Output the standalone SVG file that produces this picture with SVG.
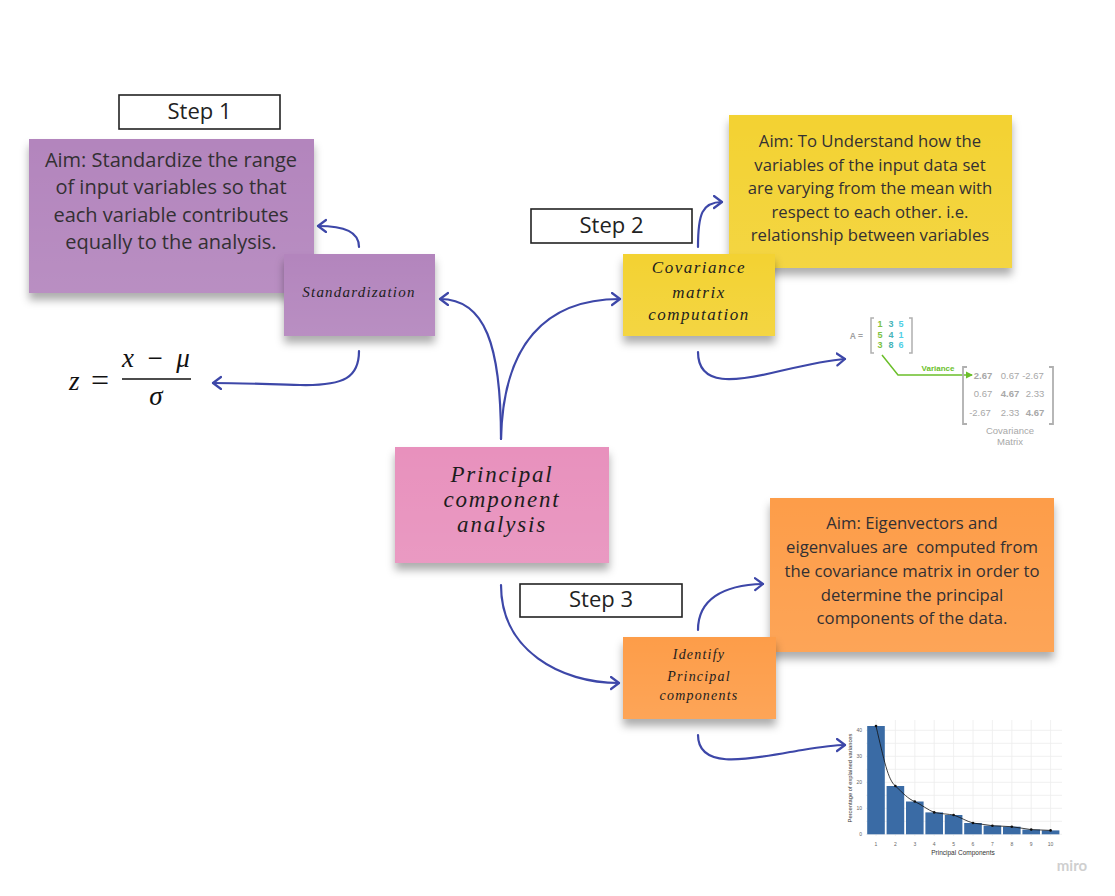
<svg xmlns="http://www.w3.org/2000/svg" width="1115" height="896" viewBox="0 0 1115 896">
<style>
.step{fill:#fff;stroke:#222;stroke-width:1.6}
.steptxt{font-family:"Open Sans","Liberation Sans",sans-serif;font-size:22px;fill:#222;text-anchor:middle}
.aim{font-family:"Open Sans","Liberation Sans",sans-serif;fill:#333033;text-anchor:middle}
.hand{font-family:"Liberation Serif",serif;font-style:italic;fill:#1d1d1d;text-anchor:middle}
.conn{fill:none;stroke:#3d47a8;stroke-width:2.2;stroke-linecap:round}
.math{font-family:"Liberation Serif",serif;fill:#111}
.mx{font-family:"Liberation Sans",sans-serif;font-size:9px;font-weight:bold;text-anchor:middle}
.cv{font-family:"Liberation Sans",sans-serif;font-size:9.5px;fill:#a8a8a8;text-anchor:middle}
.grid{stroke:#ececec;stroke-width:0.8}
.bar{fill:#3a6ba5}
.ax{font-family:"Liberation Sans",sans-serif;font-size:5px;fill:#666}
</style>
<defs>
<filter id="sh" x="-10%" y="-10%" width="120%" height="140%">
<feDropShadow dx="0" dy="7" stdDeviation="4.5" flood-color="#000" flood-opacity="0.32"/>
</filter>
<linearGradient id="gl" x1="0" y1="0" x2="0" y2="1">
<stop offset="0" stop-color="#fff" stop-opacity="0"/>
<stop offset="1" stop-color="#fff" stop-opacity="0.08"/>
</linearGradient>
<marker id="arr" markerUnits="userSpaceOnUse" markerWidth="14" markerHeight="16" refX="9" refY="7" orient="auto" viewBox="0 0 14 16">
<path d="M1,1 L9,7 L1,13" fill="none" stroke="#3d47a8" stroke-width="2.2" stroke-linecap="round" stroke-linejoin="round"/>
</marker>
<marker id="garr" markerUnits="userSpaceOnUse" markerWidth="8" markerHeight="8" refX="6" refY="4" orient="auto" viewBox="0 0 8 8">
<path d="M0,0.5 L7,4 L0,7.5 Z" fill="#6bbf2a"/>
</marker>
</defs>

<rect width="1115" height="896" fill="#fff"/>

<g id="step1">
<rect class="step" x="119" y="95" width="161" height="34"/>
<text class="steptxt" x="199.5" y="119">Step 1</text>
</g>

<g id="aim1">
<rect x="29" y="139" width="285" height="154" fill="#b385bd" filter="url(#sh)"/>
<rect x="29" y="139" width="285" height="154" fill="url(#gl)"/>
<text class="aim" font-size="20" x="171" y="167">Aim: Standardize the range</text>
<text class="aim" font-size="20" x="171" y="194">of input variables so that</text>
<text class="aim" font-size="20" x="171" y="222">each variable contributes</text>
<text class="aim" font-size="20" x="171" y="249">equally to the analysis.</text>
</g>

<g id="standardization">
<rect x="284" y="254" width="151" height="82" fill="#b385bd" filter="url(#sh)"/>
<rect x="284" y="254" width="151" height="82" fill="url(#gl)"/>
<text class="hand" font-size="15" letter-spacing="1.2" x="359" y="297">Standardization</text>
</g>

<g id="formula">
<text class="math" font-style="italic" font-size="27" x="69" y="390">z</text>
<text class="math" font-size="32" x="100" y="391" text-anchor="middle">=</text>
<line x1="122" y1="379" x2="191" y2="379" stroke="#111" stroke-width="1.3"/>
<text class="math" font-size="27" x="156" y="367" text-anchor="middle" xml:space="preserve"><tspan font-style="italic">x</tspan>  −  <tspan font-style="italic">μ</tspan></text>
<text class="math" font-style="italic" font-size="27" x="156" y="405" text-anchor="middle">σ</text>
</g>

<g id="pca">
<rect x="395" y="447" width="214" height="116" fill="#e891bd" filter="url(#sh)"/>
<rect x="395" y="447" width="214" height="116" fill="url(#gl)"/>
<text class="hand" font-size="23" letter-spacing="1.8" x="502" y="482">Principal</text>
<text class="hand" font-size="23" letter-spacing="1.8" x="502" y="507">component</text>
<text class="hand" font-size="23" letter-spacing="1.8" x="502" y="532">analysis</text>
</g>

<g id="step2">
<rect class="step" x="531" y="209" width="161" height="34"/>
<text class="steptxt" x="611.5" y="233">Step 2</text>
</g>

<g id="aim2">
<rect x="729" y="115" width="283" height="153" fill="#f3d232" filter="url(#sh)"/>
<rect x="729" y="115" width="283" height="153" fill="url(#gl)"/>
<text class="aim" font-size="16.7" x="870" y="147">Aim: To Understand how the</text>
<text class="aim" font-size="16.7" x="870" y="171">variables of the input data set</text>
<text class="aim" font-size="16.7" x="870" y="194">are varying from the mean with</text>
<text class="aim" font-size="16.7" x="870" y="218">respect to each other. i.e.</text>
<text class="aim" font-size="16.7" x="870" y="241">relationship between variables</text>
</g>

<g id="covariance">
<rect x="623" y="254" width="152" height="82" fill="#f3d232" filter="url(#sh)"/>
<rect x="623" y="254" width="152" height="82" fill="url(#gl)"/>
<text class="hand" font-size="17" letter-spacing="1.5" x="699" y="273">Covariance</text>
<text class="hand" font-size="17" letter-spacing="1.5" x="699" y="298">matrix</text>
<text class="hand" font-size="17" letter-spacing="1.5" x="699" y="320">computation</text>
</g>

<g id="matrix">
<text x="863" y="339" font-family="Liberation Sans,sans-serif" font-size="8.5" font-weight="bold" fill="#a0a0a0" text-anchor="end">A =</text>
<path d="M874,318 H871 V353 H874" fill="none" stroke="#b0b0b0" stroke-width="1.5"/>
<path d="M909,318 H912 V353 H909" fill="none" stroke="#b0b0b0" stroke-width="1.5"/>
<text class="mx" fill="#7dc242" x="880" y="327">1</text><text class="mx" fill="#45b3b8" x="891" y="327">3</text><text class="mx" fill="#4fcfe6" x="901" y="327">5</text>
<text class="mx" fill="#7dc242" x="880" y="338">5</text><text class="mx" fill="#45b3b8" x="891" y="338">4</text><text class="mx" fill="#4fcfe6" x="901" y="338">1</text>
<text class="mx" fill="#7dc242" x="880" y="348">3</text><text class="mx" fill="#45b3b8" x="891" y="348">8</text><text class="mx" fill="#4fcfe6" x="901" y="348">6</text>
<path d="M882,355 L898,375 H972" fill="none" stroke="#6bbf2a" stroke-width="1.5" marker-end="url(#garr)"/>
<text x="938" y="371" font-family="Liberation Sans,sans-serif" font-size="8" font-weight="bold" fill="#6bbf2a" text-anchor="middle">Variance</text>
<path d="M967,367 H963 V424 H967" fill="none" stroke="#b0b0b0" stroke-width="1.8"/>
<path d="M1049,367 H1053 V424 H1049" fill="none" stroke="#b0b0b0" stroke-width="1.8"/>
<text class="cv" x="983" y="379" fill="#6bbf2a" font-weight="bold">2.67</text><text class="cv" x="1010" y="379">0.67</text><text class="cv" x="1033" y="379">-2.67</text>
<text class="cv" x="983" y="397">0.67</text><text class="cv" x="1010" y="397" fill="#3fb0b3" font-weight="bold">4.67</text><text class="cv" x="1035" y="397">2.33</text>
<text class="cv" x="980" y="416">-2.67</text><text class="cv" x="1010" y="416">2.33</text><text class="cv" x="1035" y="416" fill="#3fd3ea" font-weight="bold">4.67</text>
<text class="cv" x="1010" y="434" font-size="8">Covariance</text>
<text class="cv" x="1010" y="445" font-size="8">Matrix</text>
</g>

<g id="step3">
<rect class="step" x="520" y="584" width="162" height="33"/>
<text class="steptxt" x="601" y="607">Step 3</text>
</g>

<g id="aim3">
<rect x="770" y="498" width="284" height="154" fill="#fd9d48" filter="url(#sh)"/>
<rect x="770" y="498" width="284" height="154" fill="url(#gl)"/>
<text class="aim" font-size="16.7" x="912" y="529">Aim: Eigenvectors and</text>
<text class="aim" font-size="16.7" x="912" y="553" xml:space="preserve">eigenvalues are  computed from</text>
<text class="aim" font-size="16.7" x="912" y="577">the covariance matrix in order to</text>
<text class="aim" font-size="16.7" x="912" y="601">determine the principal</text>
<text class="aim" font-size="16.7" x="912" y="624">components of the data.</text>
</g>

<g id="identify">
<rect x="623" y="637" width="153" height="82" fill="#fd9d48" filter="url(#sh)"/>
<rect x="623" y="637" width="153" height="82" fill="url(#gl)"/>
<text class="hand" font-size="14" letter-spacing="1.2" x="699" y="659">Identify</text>
<text class="hand" font-size="14" letter-spacing="1.2" x="699" y="681">Principal</text>
<text class="hand" font-size="14" letter-spacing="1.2" x="699" y="700">components</text>
</g>

<g id="chart">
<g class="grid">
<line x1="866" y1="821.3" x2="1062" y2="821.3"/><line x1="866" y1="795.3" x2="1062" y2="795.3"/><line x1="866" y1="769.3" x2="1062" y2="769.3"/><line x1="866" y1="743.3" x2="1062" y2="743.3"/>
<line x1="866" y1="834.3" x2="1062" y2="834.3"/><line x1="866" y1="808.3" x2="1062" y2="808.3"/><line x1="866" y1="782.3" x2="1062" y2="782.3"/><line x1="866" y1="756.3" x2="1062" y2="756.3"/><line x1="866" y1="730.3" x2="1062" y2="730.3"/>
<line x1="876" y1="720" x2="876" y2="836"/><line x1="895.4" y1="720" x2="895.4" y2="836"/><line x1="914.8" y1="720" x2="914.8" y2="836"/><line x1="934.2" y1="720" x2="934.2" y2="836"/><line x1="953.6" y1="720" x2="953.6" y2="836"/>
<line x1="973" y1="720" x2="973" y2="836"/><line x1="992.4" y1="720" x2="992.4" y2="836"/><line x1="1011.8" y1="720" x2="1011.8" y2="836"/><line x1="1031.2" y1="720" x2="1031.2" y2="836"/><line x1="1050.6" y1="720" x2="1050.6" y2="836"/>
</g>
<rect class="bar" x="867.2" y="726" width="17.6" height="108.3"/>
<rect class="bar" x="886.6" y="786" width="17.6" height="48.3"/>
<rect class="bar" x="906" y="801.5" width="17.6" height="32.8"/>
<rect class="bar" x="925.4" y="812.4" width="17.6" height="21.9"/>
<rect class="bar" x="944.8" y="815" width="17.6" height="19.3"/>
<rect class="bar" x="964.2" y="823" width="17.6" height="11.3"/>
<rect class="bar" x="983.6" y="825.7" width="17.6" height="8.6"/>
<rect class="bar" x="1003" y="826.7" width="17.6" height="7.6"/>
<rect class="bar" x="1022.4" y="829.6" width="17.6" height="4.7"/>
<rect class="bar" x="1041.8" y="830.4" width="17.6" height="3.9"/>
<path d="M876,726 C884,760 888,780 895.4,786 C903,793 908,799 914.8,801.5 C922,805 928,810 934.2,812.4 C942,814 948,814 953.6,815 C962,818 966,821 973,823 L992.4,825.7 L1011.8,826.7 L1031.2,829.6 L1050.6,830.4" fill="none" stroke="#111" stroke-width="0.8"/>
<g fill="#111">
<circle cx="876" cy="726" r="1.3"/><circle cx="895.4" cy="786" r="1.3"/><circle cx="914.8" cy="801.5" r="1.3"/><circle cx="934.2" cy="812.4" r="1.3"/><circle cx="953.6" cy="815" r="1.3"/>
<circle cx="973" cy="823" r="1.3"/><circle cx="992.4" cy="825.7" r="1.3"/><circle cx="1011.8" cy="826.7" r="1.3"/><circle cx="1031.2" cy="829.6" r="1.3"/><circle cx="1050.6" cy="830.4" r="1.3"/>
</g>
<g class="ax" text-anchor="end">
<text x="862" y="732">40</text><text x="862" y="758">30</text><text x="862" y="784">20</text><text x="862" y="810">10</text><text x="862" y="836">0</text>
</g>
<g class="ax" text-anchor="middle">
<text x="876" y="846">1</text><text x="895.4" y="846">2</text><text x="914.8" y="846">3</text><text x="934.2" y="846">4</text><text x="953.6" y="846">5</text>
<text x="973" y="846">6</text><text x="992.4" y="846">7</text><text x="1011.8" y="846">8</text><text x="1031.2" y="846">9</text><text x="1050.6" y="846">10</text>
</g>
<text x="963" y="855" font-family="Liberation Sans,sans-serif" font-size="6.5" fill="#333" text-anchor="middle">Principal Components</text>
<text transform="translate(852,778) rotate(-90)" font-family="Liberation Sans,sans-serif" font-size="5.8" fill="#333" text-anchor="middle">Percentage of explained variances</text>
</g>

<g id="connectors">
<path class="conn" d="M501,439 C501,345 485,299 440,299" marker-end="url(#arr)"/>
<path class="conn" d="M501,439 C503,345 545,299 620,299" marker-end="url(#arr)"/>
<path class="conn" d="M359,247 C359,232 345,226 318,226" marker-end="url(#arr)"/>
<path class="conn" d="M359,351 C359,377 345,386 300,385 C262,384 240,383 213,383" marker-end="url(#arr)"/>
<path class="conn" d="M698,247 C698,214 702,202 722,202" marker-end="url(#arr)"/>
<path class="conn" d="M698,352 C698,387 735,382 780,371 C810,364 828,360 845,359" marker-end="url(#arr)"/>
<path class="conn" d="M501,585 C501,650 560,683 619,683" marker-end="url(#arr)"/>
<path class="conn" d="M698,630 C698,600 722,585 763,584" marker-end="url(#arr)"/>
<path class="conn" d="M698,735 C698,768 742,761 790,752 C815,748 830,745 845,745" marker-end="url(#arr)"/>
</g>

<text x="1072" y="871" font-family="Lato,'Open Sans',sans-serif" font-size="15" font-weight="bold" fill="#cfcfcf" text-anchor="middle">miro</text>
</svg>
